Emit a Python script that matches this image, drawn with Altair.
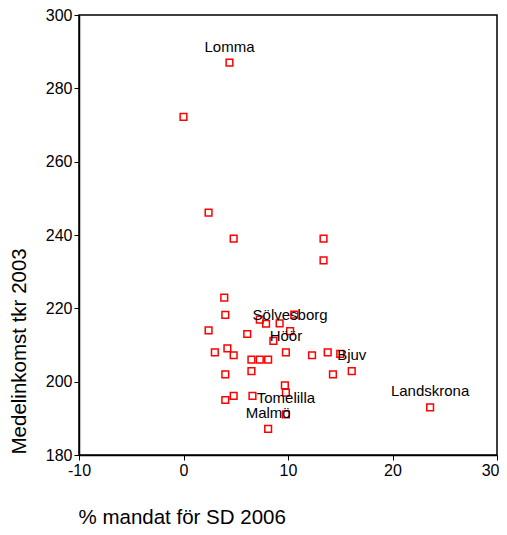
import altair as alt
import pandas as pd

# % mandat för SD 2006 (x) and Medelinkomst tkr 2003 (y)
pct_sd = [4.4, 0.0, 2.4, 4.8, 13.4, 13.4, 3.9, 4.0, 2.4, 6.1,
          7.3, 7.9, 9.2, 10.6, 10.2, 8.6, 3.0, 4.2, 4.8, 6.5,
          7.3, 8.1, 9.8, 12.3, 13.8, 15.0, 14.3, 16.1, 6.5, 4.0,
          9.7, 9.8, 4.8, 6.6, 4.0, 9.8, 8.1, 23.6]
income = [287.0, 272.2, 246.1, 239.0, 239.0, 233.1, 222.9, 218.2, 214.0, 213.0,
          216.9, 215.8, 215.9, 218.3, 213.8, 211.1, 208.0, 209.1, 207.2, 206.0,
          206.0, 206.0, 208.0, 207.2, 208.0, 207.6, 202.0, 202.9, 202.9, 202.0,
          199.0, 197.0, 196.1, 196.1, 195.0, 191.1, 187.1, 193.0]
names = ["Lomma", "", "", "", "", "", "", "", "", "",
         "", "", "", "", "Sölvesborg", "", "", "", "", "",
         "", "", "Höör", "", "", "", "", "Bjuv", "", "",
         "", "", "", "", "", "Tomelilla", "Malmö", "Landskrona"]

x_ticks = [-10, 0, 10, 20, 30]
y_ticks = [180, 200, 220, 240, 260, 280, 300]

df = pd.DataFrame({"pct": pct_sd, "inc": income, "name": names})

FONT = "Liberation Sans"

x = alt.X("pct:Q",
          scale=alt.Scale(domain=[-10, 30], nice=False, zero=False),
          axis=alt.Axis(values=x_ticks, grid=False, title="% mandat för SD 2006",
                        labelFlush=False,
                        labelAlign={"condition": {"test": "datum.value == 30", "value": "right"},
                                    "value": "center"},
                        labelOffset={"condition": {"test": "datum.value == 30", "value": 2},
                                     "value": 0},
                        labelExpr="replace(datum.label, '\u2212', '-')",
                        titleX=-1, titleY=68, titleAlign="left", titleBaseline="alphabetic"))
y = alt.Y("inc:Q",
          scale=alt.Scale(domain=[180, 300], nice=False, zero=False),
          axis=alt.Axis(values=y_ticks, grid=False, title="Medelinkomst tkr 2003",
                        titleX=-60, titleY=439, titleAlign="left", titleBaseline="middle",
                        titleAngle=270))

points = alt.Chart(df).mark_point(shape="square", filled=False, color="red",
                                  size=45, strokeWidth=1.5, opacity=1).encode(x=x, y=y)

labels = alt.Chart(df).transform_filter("datum.name != ''").mark_text(
    dy=-16, fontSize=15, font=FONT, color="black", baseline="middle", align="center"
).encode(x=x, y=y, text="name:N")

chart = (points + labels).properties(
    width=418, height=440,
    autosize=alt.AutoSizeParams(type="none"),
    padding={"left": 71, "top": 7, "right": 2, "bottom": 72},
).configure_view(
    stroke="black", strokeWidth=1.5
).configure_axis(
    domainColor="black", domainWidth=1.5, tickColor="black", tickWidth=1,
    tickSize=5, labelColor="black", labelFont=FONT, labelFontSize=16,
    labelPadding=2, titleFont=FONT, titleFontSize=20.5, titleFontWeight="normal",
    titleColor="black"
)

chart.save("out.html", embed_options={"renderer": "svg", "actions": False})
